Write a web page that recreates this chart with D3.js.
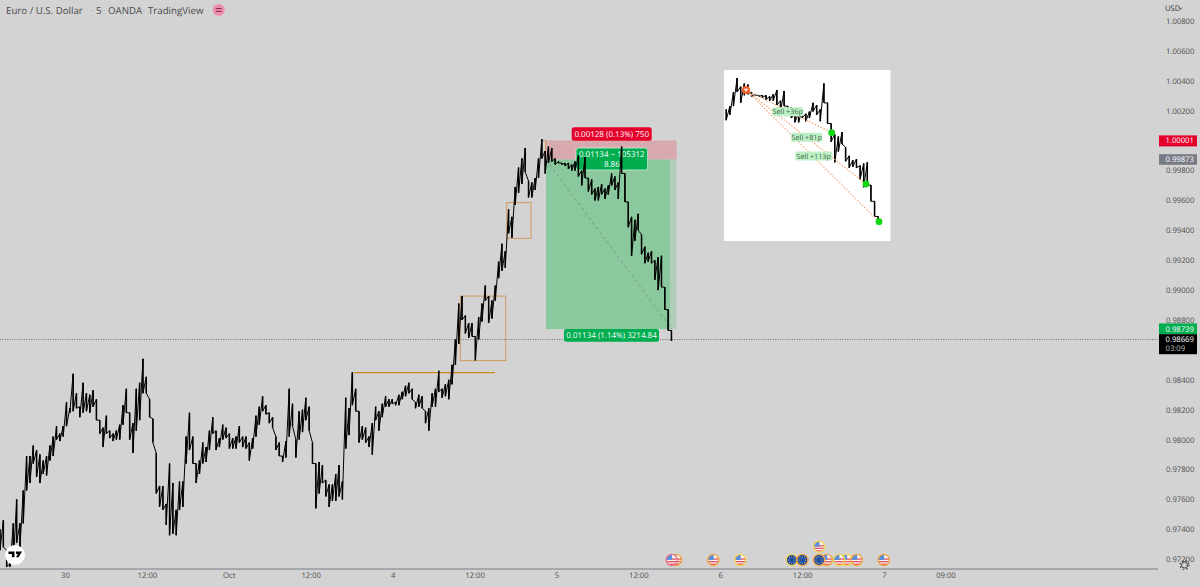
<!DOCTYPE html>
<html>
<head>
<meta charset="utf-8">
<title>EURUSD 5m</title>
<script src="https://cdn.jsdelivr.net/npm/d3@7"></script>
<style>
html,body{margin:0;padding:0;background:#d3d3d3;overflow:hidden}
svg{display:block}
text{font-family:"Open Sans",sans-serif;text-rendering:geometricPrecision}
.axis text{font-size:7.7px;fill:#4c4c4c}
.axis path,.axis line{display:none}
.tag{font-size:7.7px;fill:#fff;text-anchor:start}
.pos{font-size:8px;fill:#fff;text-anchor:middle}
.sell{font-size:7.2px;fill:#3f6a4a;text-anchor:middle}
</style>
</head>
<body>
<svg id="chart" width="1200" height="587"></svg>
<script>
// high and low of each sample left to right
var barHigh = [
.9740,.9746,.9726,.9717,.9744,.9760,.9744,.9766,.9789,.9789,
.9796,.9793,.9790,.9786,.9789,.9796,.9802,.9809,.9804,.9809,
.9825,.9821,.9844,.9831,.9822,.9838,.9831,.9830,.9833,.9827,
.9813,.9808,.9816,.9806,.9804,.9806,.9810,.9823,.9834,.9818,
.9811,.9834,.9838,.9854,.9842,.9827,.9814,.9791,.9769,.9769,
.9757,.9784,.9771,.9753,.9772,.9772,.9802,.9818,.9802,.9784,
.9786,.9798,.9795,.9806,.9815,.9806,.9801,.9810,.9808,.9804,
.9801,.9802,.9809,.9802,.9802,.9798,.9801,.9816,.9822,.9829,
.9823,.9818,.9815,.9802,.9798,.9789,.9799,.9834,.9824,.9800,
.9819,.9820,.9828,.9822,.9798,.9784,.9785,.9783,.9773,.9770,
.9770,.9777,.9783,.9772,.9828,.9821,.9845,.9834,.9819,.9809,
.9808,.9802,.9811,.9822,.9819,.9824,.9829,.9827,.9827,.9825,
.9830,.9832,.9836,.9838,.9834,.9825,.9830,.9829,.9819,.9821,
.9831,.9834,.9846,.9834,.9837,.9840,.9850,.9867,.9891,.9896,
.9883,.9878,.9878,.9869,.9882,.9891,.9903,.9896,.9893,.9903,
.9919,.9931,.9926,.9954,.9949,.9969,.9982,.9988,.9995,.9973,
.9972,.9975,.9988,1.0001,.9993,.9996,.9995,.9988,.9986,.9985,
.9985,.9985,.9984,.9986,.9990,.9980,.9989,.9975,.9974,.9968,
.9969,.9971,.9968,.9970,.9978,.9976,.9972,.9996,.9978,.9959,
.9949,.9947,.9951,.9937,.9929,.9925,.9926,.9920,.9922,.9923,
.9902,.9887,.9873];
var barLow = [
.9726,.9728,.9715,.9715,.9717,.9731,.9728,.9744,.9766,.9771,
.9784,.9775,.9771,.9777,.9776,.9786,.9789,.9800,.9799,.9802,
.9809,.9818,.9819,.9821,.9815,.9818,.9819,.9818,.9822,.9813,
.9804,.9795,.9804,.9801,.9799,.9800,.9800,.9810,.9818,.9800,
.9791,.9806,.9813,.9831,.9831,.9815,.9798,.9764,.9755,.9753,
.9743,.9736,.9737,.9736,.9753,.9755,.9784,.9793,.9784,.9771,
.9777,.9784,.9785,.9793,.9804,.9793,.9795,.9800,.9801,.9794,
.9794,.9794,.9798,.9795,.9794,.9786,.9794,.9802,.9810,.9819,
.9817,.9811,.9808,.9793,.9789,.9785,.9788,.9802,.9809,.9788,
.9800,.9805,.9813,.9806,.9784,.9754,.9764,.9771,.9762,.9755,
.9759,.9759,.9762,.9760,.9794,.9803,.9823,.9819,.9798,.9800,
.9798,.9795,.9790,.9813,.9806,.9815,.9822,.9822,.9824,.9823,
.9823,.9827,.9829,.9831,.9827,.9821,.9822,.9821,.9811,.9806,
.9822,.9822,.9832,.9828,.9829,.9827,.9837,.9850,.9864,.9880,
.9871,.9868,.9869,.9853,.9867,.9879,.9893,.9878,.9881,.9893,
.9908,.9913,.9915,.9938,.9935,.9957,.9965,.9971,.9979,.9962,
.9962,.9967,.9975,.9988,.9978,.9985,.9986,.9984,.9985,.9984,
.9983,.9981,.9980,.9980,.9976,.9970,.9975,.9966,.9964,.9960,
.9960,.9964,.9961,.9964,.9970,.9967,.9961,.9978,.9959,.9942,
.9923,.9933,.9940,.9924,.9918,.9919,.9918,.9907,.9900,.9902,
.9887,.9873,.9866];
var firstBarHour = -9.52, barStepHours = 0.487;

// 1.00000 and 0.98600 sit behind the price tags
var priceTicks = [1.008,1.006,1.004,1.002,.998,.996,.994,.992,.99,.988,.984,.982,.98,.978,.976,.974,.972];
var timeTicks = [0,12,24,36,48,60,72,84,96,108,120,129];
var timeLabels = ["30","12:00","Oct","12:00","4","12:00","5","12:00","6","12:00","7","09:00"];

var stopPrice = 1.00001, entryPrice = 0.99873, targetPrice = 0.98739, lastPrice = 0.98669;
var posStart = 70.48, posNow = 88.65, posEnd = 89.6;
var levelHour = [42.34, 63.0], levelPrice = 0.98448;
var boxHours = [[57.92,64.57],[64.72,68.28],[69.85,70.4]];
var boxPrices = [[0.98960,0.98528],[0.99585,0.99346],[1.0000,0.99917]];

var signalHours = 71.06;
var sellLabels = ["Sell +36p","Sell +81p","Sell +113p"];
var sellLabelX = [787.7,806.7,813.7], sellLabelY = [111.7,137.3,156];
var exitX = [831.7,866,879], exitY = [132.7,184,221.7];

var eventHours = [89.52,88.89,94.99,98.95,106.48,108.03,111.6,110.48,110.48,114.53,113.41,116,119.96];
var eventLanes = [0,0,0,0,0,0,0,1,0,0,0,0,0];
var eventKinds = ["us","us","us","us","eu","eu","us","us","eu","us","us","us","us"];
var eventRings = ["#f2a33c","#ef7186","#f2a33c","#f6d64a","#f6d64a","#f2a33c","#f2a33c","#f6d64a","#f2a33c","#f6d64a","#f6d64a","#f2a33c","#f2a33c"];

var svg = d3.select("#chart");
var x = d3.scaleLinear().domain([-9.524,159.7]).range([0,1155]);
var y = d3.scaleLinear().domain([1.008,0.972]).range([21,559.2]);

// inset screenshot shows the same move, stretched
var insetX = d3.scaleLinear().domain([68.1,89.1]).range([724,880]);
var insetY = d3.scaleLinear().domain([1.0001,0.9866]).range([78,224]);

var bars = barHigh.map(function(h,i){
	return {t:firstBarHour+i*barStepHours, hi:h, lo:barLow[i]};
});
var pricePts = [];
bars.forEach(function(b){
	pricePts.push([b.t,b.hi]);
	pricePts.push([b.t,b.lo]);
});

function drawSeries(g,sx,sy,pts,data){
	var line = d3.line().x(function(d){return sx(d[0]);}).y(function(d){return sy(d[1]);});
	g.append("path").datum(pts).attr("d",line)
		.attr("fill","none").attr("stroke","#000").attr("stroke-width",1);
	g.selectAll("line.bar").data(data).enter().append("line").classed("bar",true)
		.attr("x1",function(d){return sx(d.t);}).attr("x2",function(d){return sx(d.t);})
		.attr("y1",function(d){return sy(d.hi);}).attr("y2",function(d){return sy(d.lo);})
		.attr("stroke","#000").attr("stroke-width",1.5);
}

function drawBackground(){
	svg.append("rect").attr("width",1200).attr("height",587).attr("fill","#d3d3d3");
}

function drawPosition(){
	var w1 = x(posNow)-x(posStart), w2 = x(posEnd)-x(posNow);
	svg.append("rect").attr("x",x(posStart)).attr("y",y(stopPrice)).attr("width",w1+w2)
		.attr("height",y(entryPrice)-y(stopPrice)).attr("fill","#d8a9af");
	svg.append("rect").attr("x",x(posStart)).attr("y",y(entryPrice)).attr("width",w1)
		.attr("height",y(targetPrice)-y(entryPrice)).attr("fill","#8ac89d");
	svg.append("rect").attr("x",x(posNow)).attr("y",y(entryPrice)).attr("width",w2)
		.attr("height",y(targetPrice)-y(entryPrice)).attr("fill","#afcdb7");
	svg.append("line").attr("x1",x(posStart)).attr("y1",y(entryPrice))
		.attr("x2",x(88.9)).attr("y2",y(targetPrice))
		.attr("stroke","#76937f").attr("stroke-width",0.9).attr("stroke-dasharray","3,3");
	// dotted last price line
	svg.append("line").attr("x1",0).attr("x2",1158).attr("y1",y(lastPrice)).attr("y2",y(lastPrice))
		.attr("stroke","#555").attr("stroke-width",0.8).attr("stroke-dasharray","1,1.4");
}

function posLabel(cx,top,w,h,fill,lines,border){
	var r = svg.append("rect").attr("x",cx-w/2).attr("y",top).attr("width",w).attr("height",h)
		.attr("rx",2.5).attr("fill",fill);
	if(border) r.attr("stroke","#e6f5ea").attr("stroke-width",0.7);
	lines.forEach(function(s,i){
		svg.append("text").attr("class","pos").attr("x",cx)
			.attr("y",top+h/2+2.8+(i-(lines.length-1)/2)*10).text(s);
	});
}

function drawLabels(){
	posLabel(611.7,127.3,80,13.4,"#e4002b",["0.00128 (0.13%) 750"]);
	posLabel(611.8,148,71.6,22,"#00ad4f",["0.01134 ~ 105312","8.86"],true);
	posLabel(611.5,329,95,12.7,"#00ad4f",["0.01134 (1.14%) 3214.84"]);
}

function drawDrawings(){
	boxHours.forEach(function(b,i){
		svg.append("rect").attr("x",x(b[0])).attr("y",y(boxPrices[i][0]))
			.attr("width",x(b[1])-x(b[0])).attr("height",y(boxPrices[i][1])-y(boxPrices[i][0]))
			.attr("fill","none").attr("stroke","#cf9a5c").attr("stroke-width",1);
	});
	svg.append("line").attr("x1",x(levelHour[0])).attr("x2",x(levelHour[1]))
		.attr("y1",y(levelPrice)).attr("y2",y(levelPrice))
		.attr("stroke","#c98716").attr("stroke-width",1.2);
}

function drawInset(){
	var g = svg.append("g");
	svg.append("clipPath").attr("id","insetClip").append("rect")
		.attr("x",724).attr("y",70).attr("width",166.5).attr("height",171);
	g.append("rect").attr("x",724).attr("y",70).attr("width",166.5).attr("height",171).attr("fill","#fff");
	var clipped = g.append("g").attr("clip-path","url(#insetClip)");
	drawSeries(clipped,insetX,insetY,
		pricePts.filter(function(d){return d[0]>=68.1;}),
		bars.filter(function(d){return d.t>=68.1;}));
	var sx = insetX(signalHours), sy = 90;
	exitX.forEach(function(ex,i){
		g.append("line").attr("x1",sx).attr("y1",sy).attr("x2",ex).attr("y2",exitY[i])
			.attr("stroke","#f6a272").attr("stroke-width",1.1).attr("stroke-dasharray","1.6,1.6");
		g.append("circle").attr("cx",ex).attr("cy",exitY[i]).attr("r",3.4).attr("fill","#11d611");
	});
	sellLabels.forEach(function(s,i){
		var w = i==2 ? 37 : 31;
		g.append("rect").attr("x",sellLabelX[i]-w/2).attr("y",sellLabelY[i]-4.5).attr("width",w).attr("height",9)
			.attr("rx",1.5).attr("fill","#bdf0c4");
		g.append("text").attr("class","sell").attr("x",sellLabelX[i]).attr("y",sellLabelY[i]+2.5).text(s);
	});
	g.append("circle").attr("cx",sx).attr("cy",sy).attr("r",4).attr("fill","#f0602a");
	g.append("path").attr("d","M"+(sx-2.2)+","+(sy-1.2)+"h4.4l-2.2,3z").attr("fill","#fff");
}

function drawAxes(){
	var yAxis = d3.axisRight(y).tickValues(priceTicks).tickSize(0).tickPadding(0)
		.tickFormat(d3.format(".5f"));
	svg.append("g").attr("class","axis").attr("transform","translate(1166,0)").call(yAxis);

	var xAxis = d3.axisBottom(x).tickValues(timeTicks).tickSize(0).tickPadding(4)
		.tickFormat(function(d,i){return timeLabels[i];});
	svg.append("g").attr("class","axis").attr("transform","translate(0,569)").call(xAxis);
	svg.append("line").attr("x1",0).attr("x2",1158).attr("y1",569).attr("y2",569)
		.attr("stroke","#7b7d85").attr("stroke-width",1);
}

function priceTag(price,top,h,fill,label,extra){
	svg.append("rect").attr("x",1159).attr("y",top).attr("width",38).attr("height",h).attr("fill",fill);
	svg.append("text").attr("class","tag").attr("x",1165.5).attr("y",y(price)+2.9).text(label);
	if(extra) svg.append("text").attr("class","tag").attr("x",1165.5).attr("y",y(price)+11.6)
		.attr("fill-opacity",0.75).text(extra);
}

function drawTags(){
	priceTag(stopPrice,135.4,11,"#e4002b","1.00001");
	priceTag(entryPrice,154.2,10.6,"#787b86","0.99873");
	priceTag(targetPrice,323.4,10.8,"#00ad4f","0.98739");
	priceTag(lastPrice,334.2,20,"#000","0.98669","03:09");
	svg.append("text").attr("x",1165).attr("y",10.5).attr("font-size",7.7).attr("fill","#333").text("USD");
	svg.append("path").attr("d","M1179,7.5l1.7,1.7l1.7,-1.7").attr("fill","none").attr("stroke","#333").attr("stroke-width",0.7);
	// gear
	svg.append("circle").attr("cx",1184.5).attr("cy",565).attr("r",3).attr("fill","none").attr("stroke","#444").attr("stroke-width",1);
	svg.append("circle").attr("cx",1184.5).attr("cy",565).attr("r",4.4).attr("fill","none").attr("stroke","#444")
		.attr("stroke-width",1.2).attr("stroke-dasharray","1.6,1.9");
}

function drawTitle(){
	var parts = ["Euro / U.S. Dollar","5","OANDA","TradingView"], px = [6,96,108,148];
	parts.forEach(function(s,i){
		svg.append("text").attr("x",px[i]).attr("y",14).attr("font-size",9.7).attr("fill","#4a4a4a").text(s);
	});
	[92,104,144].forEach(function(d){
		svg.append("circle").attr("cx",d).attr("cy",10.5).attr("r",0.5).attr("fill","#888");
	});
	svg.append("circle").attr("cx",218.7).attr("cy",10).attr("r",6).attr("fill","#ec8fae");
	svg.append("path").attr("d","M215.7,8.6h6M215.7,11.4h6").attr("stroke","#7d2745").attr("stroke-width",1);
}

function drawLogo(){
	svg.append("circle").attr("cx",15).attr("cy",555).attr("r",10).attr("fill","#fff");
	svg.append("path").attr("d","M8.5,551.5h6v5.8h-2.6v-3.4h-3.4zM16,551.5h6l-3.4,5.8h-2.6l1.8,-3.2h-1.8z").attr("fill","#000");
}

function drawEvents(){
	var defs = svg.append("defs");
	eventHours.forEach(function(h,i){
		var cx = x(h), cy = eventLanes[i] ? 546.7 : 560;
		var id = "ev"+i;
		defs.append("clipPath").attr("id",id).append("circle").attr("cx",cx).attr("cy",cy).attr("r",5.4);
		var g = svg.append("g");
		var f = g.append("g").attr("clip-path","url(#"+id+")");
		if(eventKinds[i]=="us"){
			f.append("rect").attr("x",cx-6).attr("y",cy-6).attr("width",12).attr("height",12).attr("fill","#f4f4f4");
			[-1.6,1,3.6].forEach(function(o){
				f.append("rect").attr("x",cx-6).attr("y",cy+o).attr("width",12).attr("height",1.3).attr("fill","#e5545c");
			});
			f.append("rect").attr("x",cx-6).attr("y",cy-6).attr("width",6.4).attr("height",6).attr("fill","#5b8fdc");
		} else {
			f.append("rect").attr("x",cx-6).attr("y",cy-6).attr("width",12).attr("height",12).attr("fill","#1f4fa8");
			d3.range(8).forEach(function(a){
				f.append("circle").attr("cx",cx+3.2*Math.cos(a*Math.PI/4)).attr("cy",cy+3.2*Math.sin(a*Math.PI/4))
					.attr("r",0.55).attr("fill","#e8d34a");
			});
		}
		g.append("circle").attr("cx",cx).attr("cy",cy).attr("r",5.6).attr("fill","none")
			.attr("stroke",eventRings[i]).attr("stroke-width",1.3);
	});
}

drawBackground();
drawPosition();
drawDrawings();
drawLabels();
drawSeries(svg.append("g"),x,y,pricePts,bars);
drawInset();
drawAxes();
drawTags();
drawTitle();
drawLogo();
drawEvents();
</script>
</body>
</html>
